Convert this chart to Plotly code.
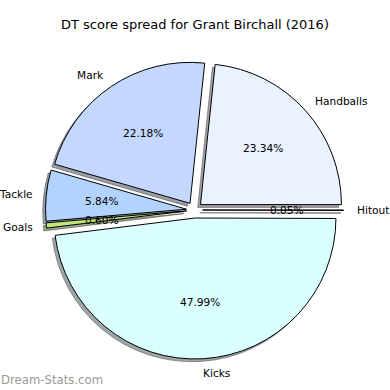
import math
import plotly.graph_objects as go

# ---- data ----
labels = ["Handballs", "Mark", "Tackle", "Goals", "Kicks", "Hitout"]
values = [23.34, 22.18, 5.84, 0.60, 47.99, 0.05]
colors = ["#eaf1ff", "#c4d8ff", "#b3d3ff", "#bfe67a", "#d9ffff", "#e0e0ff"]
title = "DT score spread for Grant Birchall (2016)"
watermark = "Dream-Stats.com"

# ---- layout constants ----
W = H = 390
pull = 0.057
dom_x = [0.1167, 0.8808]
dom_y = [0.0795, 0.8436]
shadow_px = 2.8   # shadow offset (left & down) in px
LABEL_SIZE = 10.6
TITLE_SIZE = 13

def hex_rgb(h):
    h = h.lstrip("#")
    return tuple(int(h[i:i + 2], 16) for i in (0, 2, 4))

shadow_cols = []
for c in colors:
    r, g, b = hex_rgb(c)
    shadow_cols.append("rgba(%d,%d,%d,0.5)" % (0.3 * r, 0.3 * g, 0.3 * b))

total = sum(values)
# plotly (counterclockwise): the first slice ends at `rotation` (deg clockwise from 12 o'clock);
# we want the first slice to start at 3 o'clock going counterclockwise.
rotation = 90 - values[0] / total * 360

common = dict(labels=labels, values=values, sort=False, direction="counterclockwise",
              rotation=rotation, pull=[pull] * len(values), textinfo="none",
              hoverinfo="skip", showlegend=False)

sdx = shadow_px / W
sdy = shadow_px / H
fig = go.Figure()
fig.add_trace(go.Pie(**common,
                     domain=dict(x=[dom_x[0] - sdx, dom_x[1] - sdx],
                                 y=[dom_y[0] - sdy, dom_y[1] - sdy]),
                     marker=dict(colors=shadow_cols, line=dict(color=shadow_cols, width=1))))
fig.add_trace(go.Pie(**common, domain=dict(x=dom_x, y=dom_y),
                     marker=dict(colors=colors, line=dict(color="black", width=1))))

# ---- text positions derived from the pie geometry ----
box_w = (dom_x[1] - dom_x[0]) * W
box_h = (dom_y[1] - dom_y[0]) * H
rad = min(box_w, box_h) / 2 / (1 + pull)
cx = (dom_x[0] + dom_x[1]) / 2 * W
cy = (dom_y[0] + dom_y[1]) / 2 * H   # from bottom
ann = []
cum = 0.0
for lab, v in zip(labels, values):
    a0 = cum / total * 2 * math.pi
    cum += v
    a1 = cum / total * 2 * math.pi
    th = (a0 + a1) / 2
    ex = cx + pull * rad * math.cos(th)
    ey = cy + pull * rad * math.sin(th)
    lx = ex + 1.1 * rad * math.cos(th)
    ly = ey + 1.1 * rad * math.sin(th)
    px = ex + 0.6 * rad * math.cos(th)
    py = ey + 0.6 * rad * math.sin(th)
    right_side = math.cos(th) > 0
    ann.append(dict(x=lx / W, y=ly / H, xref="paper", yref="paper", text=lab,
                    showarrow=False, xanchor="left" if right_side else "right",
                    xshift=-2 if right_side else 2,
                    yanchor="middle", borderpad=0,
                    font=dict(size=LABEL_SIZE, color="black")))
    ann.append(dict(x=px / W, y=py / H, xref="paper", yref="paper",
                    text="%.2f%%" % (v / total * 100), showarrow=False, borderpad=0,
                    xanchor="center", yanchor="middle",
                    font=dict(size=LABEL_SIZE, color="black")))

ann.append(dict(x=0, y=1 - 380 / H, xref="paper", yref="paper", text=watermark,
                showarrow=False, xanchor="left", yanchor="middle", borderpad=0,
                font=dict(size=11.7, color="#9a9a9a")))
ann.append(dict(x=0.5, y=1 - 25 / H, xref="paper", yref="paper", text=title,
                showarrow=False, xanchor="center", yanchor="middle", borderpad=0,
                font=dict(size=TITLE_SIZE, color="black")))

fig.update_layout(
    width=W, height=H, margin=dict(l=0, r=0, t=0, b=0),
    paper_bgcolor="white", plot_bgcolor="white",
    font=dict(family="DejaVu Sans", color="black"),
    annotations=ann,
)
fig.write_html("out.html", config={"displayModeBar": False},
               post_script="document.body.style.margin='0';")
